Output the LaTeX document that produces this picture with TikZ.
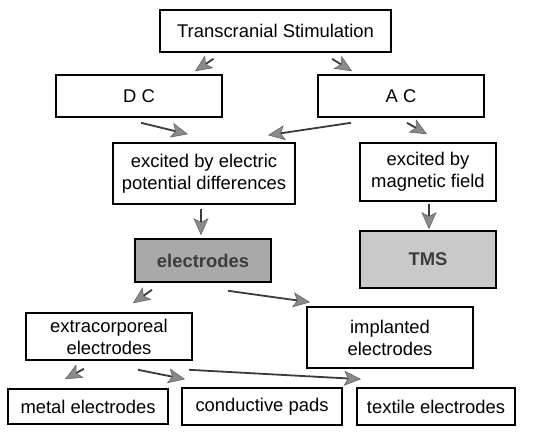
\documentclass[tikz,border=0pt]{standalone}
\usepackage{fontspec}
\setmainfont{Liberation Sans}
\usetikzlibrary{arrows.meta,calc}
\definecolor{BoxGrey}{HTML}{A9A9A9}
\definecolor{BoxGreyLight}{HTML}{C9C9C9}
\definecolor{TipGrey}{HTML}{8A8A8A}
\definecolor{ShaftGrey}{HTML}{3A3A3A}
\definecolor{LabelGrey}{HTML}{3C3C3C}

\begin{document}
\begin{tikzpicture}[
        x=1pt,y=-1pt,
        every node/.style={font=\fontsize{18.4}{22}\selectfont},
        box/.style={draw=black,line width=1.6pt,fill=white,align=center,inner sep=0pt},
        shaded/.style={box,fill=BoxGrey,font=\fontsize{18.4}{22}\selectfont\bfseries,text=LabelGrey},
        arr/.style={-{Stealth[length=17pt,width=15pt,inset=4pt,fill=TipGrey,color=TipGrey!70!black,line width=0.6pt]},draw=ShaftGrey,line width=1.8pt}
      ]
        \useasboundingbox (0,0) rectangle (550,433);
        % top levels
        \node[box,minimum width=231pt,minimum height=42pt] (ts) at (275.5,31) {Transcranial Stimulation};
        \node[box,minimum width=166pt,minimum height=42pt] (dc) at (139,96) {D C};
        \node[box,minimum width=166pt,minimum height=42pt] (ac) at (401,96) {A C};
        \node[box,minimum width=182pt,minimum height=61pt] (elec) at (204,173.5) {excited by electric\\potential differences};
        \node[box,minimum width=136pt,minimum height=58pt] (mag) at (428,172) {excited by\\magnetic field};
        \node[shaded,minimum width=136pt,minimum height=43pt] (electrodes) at (203,260.5) {electrodes};
        \node[shaded,fill=BoxGreyLight,minimum width=136pt,minimum height=57pt] (tms) at (428,259.5) {TMS};
        % electrode kinds
        \node[box,minimum width=166pt,minimum height=47pt] (extra) at (109,336.5) {extracorporeal\\electrodes};
        \node[box,minimum width=166pt,minimum height=61pt] (impl) at (390,337.5) {implanted\\electrodes};
        \node[box,minimum width=160pt,minimum height=35pt] (metal) at (88,406.5) {metal electrodes};
        \node[box,minimum width=160pt,minimum height=37pt] (pads) at (262,406.5) {conductive pads};
        \node[box,minimum width=158pt,minimum height=37pt] (textile) at (436,406.5) {textile electrodes};
        % arrows
        \draw[arr] ($(ts.south)+(-62,6)$) -- ($(dc.north)+(56,-3)$);
        \draw[arr] ($(ts.south)+(56.5,6)$) -- ($(ac.north)+(-49,-3)$);
        \draw[arr] ($(dc.south)+(2,5)$) -- ($(elec.north)+(-16,-8)$);
        \draw[arr] ($(ac.south)+(-50,5)$) -- ($(elec.north)+(64,-7)$);
        \draw[arr] ($(ac.south)+(6,5)$) -- ($(mag.north)+(-1,-8)$);
        \draw[arr] ($(elec.south)+(-3,4)$) -- ($(electrodes.north)+(-2,-3)$);
        \draw[arr] ($(mag.south)+(1,2)$) -- ($(tms.north)+(1,-1)$);
        \draw[arr] ($(electrodes.south)+(-51,7)$) -- ($(extra.north)+(24,-9)$);
        \draw[arr] ($(electrodes.south)+(25,8)$) -- ($(impl.north)+(-80,-4)$);
        \draw[arr] ($(extra.south)+(-25,8)$) -- ($(metal.north)+(-23,-9)$);
        \draw[arr] ($(extra.south)+(29,9)$) -- ($(pads.north)+(-77,-8)$);
        \draw[arr] ($(extra.south)+(80,9)$) -- ($(textile.north)+(-75,-8)$);
      \end{tikzpicture}
\end{document}
